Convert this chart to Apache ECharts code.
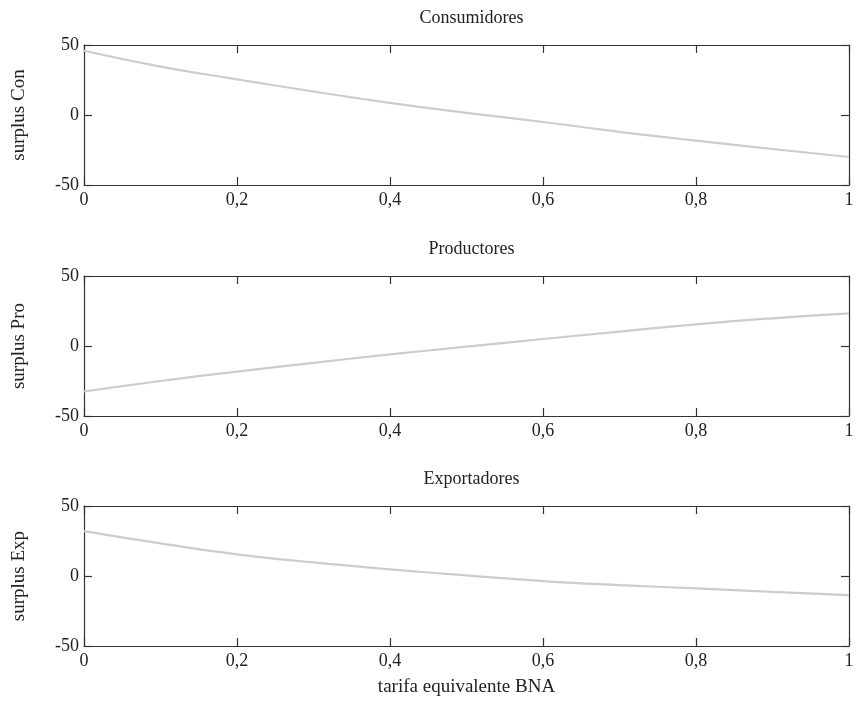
<!DOCTYPE html>
<html>
<head>
<meta charset="utf-8">
<script src="https://cdn.jsdelivr.net/npm/echarts@6/dist/echarts.min.js"></script>
<style>html,body{margin:0;padding:0;background:#fff}#c{width:860px;height:717px}</style>
</head>
<body>
<div id="c"></div>
<script>
const xValues = [0, 0.1, 0.2, 0.3, 0.4, 0.5, 0.6, 0.7, 0.8, 0.9, 1.0];
const consumidores = [45.9, 34.6, 25.5, 16.8, 8.6, 1.5, -5.0, -12.0, -18.3, -24.3, -30.0];
const productores = [-32.5, -25.0, -18.3, -12.0, -6.0, -0.5, 5.0, 10.3, 15.5, 19.8, 23.3];
const exportadores = [32.1, 23.3, 15.5, 9.7, 4.8, 0.4, -3.6, -6.5, -8.8, -11.3, -13.6];
const panelTitles = ['Consumidores', 'Productores', 'Exportadores'];
const yNames = ['surplus Con', 'surplus Pro', 'surplus Exp'];
const xName = 'tarifa equivalente BNA';
const yTicks = [-50, 0, 50];

const FONT = 'Liberation Serif';
const TXT = '#222';
const AX = '#333';
const tops = [45, 276, 506];
const H = 140;
const L = 84, R = 11;

const seriesData = [consumidores, productores, exportadores];
const grids = [], xAxes = [], yAxes = [], series = [], titles = [];
tops.forEach((t, i) => {
  grids.push({left: L, right: R, top: t, height: H});
  const base = {
    type: 'value', min: 0, max: 1, interval: 0.2, gridIndex: i,
    axisLine: {show: true, onZero: false, lineStyle: {color: AX, width: 1.2}},
    axisTick: {show: true, inside: true, length: 8, lineStyle: {color: AX, width: 1.2}},
    splitLine: {show: false}
  };
  xAxes.push(Object.assign({}, base, {
    position: 'bottom',
    axisLabel: {show: true, color: TXT, fontFamily: FONT, fontSize: 18, margin: 6,
      formatter: v => String(+v.toFixed(1)).replace('.', ',')},
    name: i === 2 ? xName : '', nameLocation: 'middle', nameGap: 32,
    nameTextStyle: {color: TXT, fontFamily: FONT, fontSize: 19}
  }));
  xAxes.push(Object.assign({}, base, {position: 'top', axisLabel: {show: false}}));
  const ybase = {
    type: 'value', min: yTicks[0], max: yTicks[2], interval: 50, gridIndex: i,
    axisLine: {show: true, onZero: false, lineStyle: {color: AX, width: 1.2}},
    axisTick: {show: true, inside: true, length: 8, lineStyle: {color: AX, width: 1.2}},
    splitLine: {show: false}
  };
  yAxes.push(Object.assign({}, ybase, {
    position: 'left',
    axisLabel: {show: true, color: TXT, fontFamily: FONT, fontSize: 18, margin: 5},
    name: yNames[i], nameLocation: 'middle', nameGap: 55,
    nameTextStyle: {color: TXT, fontFamily: FONT, fontSize: 19}
  }));
  yAxes.push(Object.assign({}, ybase, {position: 'right', axisLabel: {show: false}}));
  series.push({
    type: 'line', xAxisIndex: 2 * i, yAxisIndex: 2 * i,
    data: xValues.map((x, k) => [x, seriesData[i][k]]),
    smooth: true, showSymbol: false, silent: true,
    lineStyle: {color: '#cccccc', width: 2.2}
  });
  titles.push({
    text: panelTitles[i], left: L + (860 - L - R) / 2, top: t - 41, textAlign: 'center',
    textStyle: {color: TXT, fontFamily: FONT, fontSize: 18, fontWeight: 'normal'}
  });
});

const chart = echarts.init(document.getElementById('c'), null, {renderer: 'canvas'});
chart.setOption({
  animation: false,
  backgroundColor: '#fff',
  title: titles,
  grid: grids,
  xAxis: xAxes,
  yAxis: yAxes,
  series: series
});
</script>
</body>
</html>
